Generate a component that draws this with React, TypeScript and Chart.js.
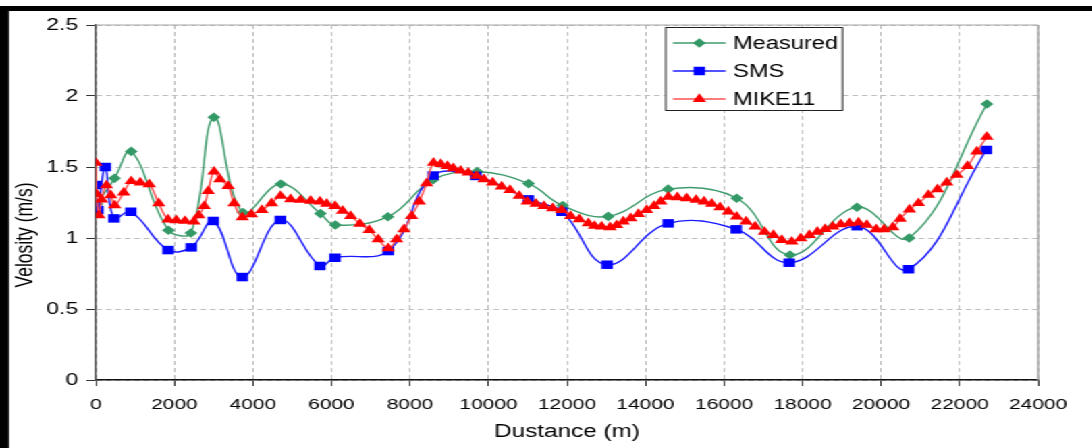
import React, { useEffect, useRef } from "react";
import { Chart, registerables } from "chart.js";

Chart.register(...registerables);

// ---------- data ----------
const seriesNames = ["Measured", "SMS", "MIKE11"];
const xTickLabels = ["0", "2000", "4000", "6000", "8000", "10000", "12000", "14000", "16000", "18000", "20000", "22000", "24000"];
const yTickLabels = ["0", "0.5", "1", "1.5", "2", "2.5"];
const xTitle = "Dustance (m)";
const yTitle = "Velosity (m/s)";

const measuredDistance = [30, 476, 900, 1850, 2420, 3006, 3745, 4713, 5720, 6100, 7440, 8590, 9710, 11020, 11890, 13050, 14575, 16325, 17680, 19385, 20715, 22695];
const measuredVelocity = [1.24, 1.42, 1.61, 1.055, 1.035, 1.85, 1.18, 1.38, 1.172, 1.092, 1.15, 1.41, 1.468, 1.383, 1.228, 1.152, 1.344, 1.28, 0.88, 1.217, 1.0, 1.944];

const smsDistance = [0, 50, 240, 460, 890, 1840, 2430, 2990, 3730, 4700, 5707, 6090, 7447, 8590, 9680, 11015, 11870, 13020, 14575, 16310, 17660, 19385, 20700, 22680];
const smsVelocity = [1.373, 1.197, 1.5, 1.138, 1.185, 0.915, 0.934, 1.12, 0.725, 1.127, 0.803, 0.861, 0.908, 1.44, 1.437, 1.272, 1.185, 0.812, 1.103, 1.061, 0.826, 1.083, 0.78, 1.62];

const mikeDistance = [
  0, 20, 75, 145, 270, 380, 480, 710, 900, 1130,
  1360, 1600, 1840, 2050, 2270, 2500, 2620, 2760, 2860, 3010,
  3160, 3370, 3520, 3730, 3960, 4230, 4475, 4705, 4960, 5215,
  5470, 5707, 5880, 6090, 6285, 6490, 6726, 6963, 7190, 7447,
  7660, 7847, 8042, 8237, 8425, 8600, 8782, 8952, 9104, 9291,
  9486, 9699, 9885, 10106, 10335, 10547, 10785, 10989, 11210, 11414,
  11635, 11864, 12093, 12313, 12543, 12700, 12883, 13096, 13266, 13435,
  13622, 13817, 14029, 14216, 14386, 14581, 14810, 15048, 15287, 15490,
  15686, 15898, 16110, 16322, 16560, 16790, 17030, 17256, 17470, 17724,
  17954, 18173, 18377, 18573, 18768, 18972, 19193, 19422, 19635, 19873,
  20076, 20297, 20484, 20722, 20951, 21206, 21435, 21673, 21928, 22200,
  22438, 22692,
];
const mikeVelocity = [
  1.53, 1.31, 1.16, 1.27, 1.37, 1.3, 1.23, 1.32, 1.4, 1.39,
  1.378, 1.244, 1.13, 1.125, 1.12, 1.115, 1.16, 1.225, 1.33, 1.467,
  1.413, 1.366, 1.244, 1.146, 1.167, 1.197, 1.244, 1.296, 1.272, 1.268,
  1.262, 1.256, 1.24, 1.225, 1.192, 1.155, 1.1, 1.056, 0.99, 0.927,
  0.99, 1.061, 1.155, 1.256, 1.385, 1.53, 1.52, 1.507, 1.49, 1.474,
  1.46, 1.437, 1.413, 1.39, 1.362, 1.338, 1.296, 1.256, 1.24, 1.225,
  1.209, 1.197, 1.155, 1.131, 1.103, 1.085, 1.08, 1.075, 1.09, 1.115,
  1.138, 1.169, 1.197, 1.225, 1.256, 1.29, 1.286, 1.279, 1.268, 1.256,
  1.24, 1.216, 1.186, 1.15, 1.115, 1.08, 1.044, 1.021, 0.986, 0.974,
  0.998, 1.021, 1.044, 1.063, 1.08, 1.096, 1.103, 1.108, 1.092, 1.061,
  1.061, 1.075, 1.135, 1.2, 1.245, 1.303, 1.343, 1.39, 1.444, 1.507,
  1.608, 1.713,
];

// ---------- styling ----------
const STRETCH = 1.35;
const W = 809;
const H = 448;
const FONT = "'Liberation Sans', Arial, sans-serif";

const toPoints = (xs: number[], ys: number[]) => xs.map((x, i) => ({ x, y: ys[i] }));

function drawMarker(ctx: CanvasRenderingContext2D, style: string, x: number, y: number, r: number) {
  ctx.beginPath();
  if (style === "rectRot") {
    ctx.moveTo(x - r, y);
    ctx.lineTo(x, y - r);
    ctx.lineTo(x + r, y);
    ctx.lineTo(x, y + r);
  } else if (style === "rect") {
    const s = Math.SQRT1_2 * r;
    ctx.rect(x - s, y - s, 2 * s, 2 * s);
  } else {
    ctx.moveTo(x, y - r);
    ctx.lineTo(x + r * Math.sin((2 * Math.PI) / 3), y - r * Math.cos((2 * Math.PI) / 3));
    ctx.lineTo(x + r * Math.sin((4 * Math.PI) / 3), y - r * Math.cos((4 * Math.PI) / 3));
  }
  ctx.closePath();
  ctx.fill();
}

const decorPlugin = {
  id: "decor",
  beforeDraw(chart: any) {
    const ctx = chart.ctx;
    ctx.save();
    ctx.fillStyle = "#ffffff";
    ctx.fillRect(0, 0, chart.width, chart.height);
    ctx.restore();
  },
  beforeDatasetsDraw(chart: any) {
    const { ctx, chartArea: a } = chart;
    ctx.save();
    ctx.strokeStyle = "#a8a8a8";
    ctx.lineWidth = 1.2;
    ctx.beginPath();
    ctx.moveTo(a.left, a.top);
    ctx.lineTo(a.right, a.top);
    ctx.stroke();
    ctx.lineWidth = 1.5;
    ctx.beginPath();
    ctx.moveTo(a.right, a.top);
    ctx.lineTo(a.right, a.bottom);
    ctx.stroke();
    ctx.restore();
  },
  afterDraw(chart: any) {
    const ctx = chart.ctx;
    ctx.save();
    // outer black frame (top and left)
    ctx.fillStyle = "#000";
    ctx.fillRect(0, 6, chart.width, 5);
    ctx.fillRect(0, 6, 6.7, chart.height);

    // y axis title
    ctx.save();
    ctx.translate(19.5, 235);
    ctx.rotate(-Math.PI / 2);
    ctx.fillStyle = "#000";
    ctx.font = `17.5px ${FONT}`;
    ctx.textAlign = "center";
    ctx.textBaseline = "middle";
    ctx.fillText(yTitle, 0, 0);
    ctx.restore();

    // legend box
    const bx = 492.6, by = 27, bw = 132, bh = 84;
    ctx.fillStyle = "#fff";
    ctx.fillRect(bx, by, bw, bh);
    ctx.strokeStyle = "#222";
    ctx.lineWidth = 1;
    ctx.strokeRect(bx + 0.5, by + 0.5, bw - 1, bh - 1);
    const rows = [43, 71, 99];
    chart.data.datasets.forEach((ds: any, i: number) => {
      const y = rows[i];
      ctx.strokeStyle = ds.borderColor;
      ctx.lineWidth = 1.4;
      ctx.beginPath();
      ctx.moveTo(498.5, y);
      ctx.lineTo(537.5, y);
      ctx.stroke();
      ctx.fillStyle = ds.pointBackgroundColor;
      drawMarker(ctx, ds.pointStyle, 518, y, ds.pointRadius);
      ctx.fillStyle = "#000";
      ctx.font = `17.5px ${FONT}`;
      ctx.textBaseline = "middle";
      ctx.textAlign = "left";
      ctx.fillText(ds.label, 543, y + 1);
    });
    ctx.restore();
  },
};

export default function App() {
  const ref = useRef<HTMLCanvasElement | null>(null);

  useEffect(() => {
    if (!ref.current) return;
    const chart = new Chart(ref.current, {
      type: "line",
      data: {
        datasets: [
          {
            label: seriesNames[0],
            data: toPoints(measuredDistance, measuredVelocity),
            borderColor: "#3e9b6c",
            borderWidth: 1.4,
            pointStyle: "rectRot",
            pointRadius: 4.8,
            pointBackgroundColor: "#339966",
            pointBorderColor: "#339966",
            pointBorderWidth: 0,
            tension: 0.4,
            fill: false,
            order: 2,
          },
          {
            label: seriesNames[1],
            data: toPoints(smsDistance, smsVelocity),
            borderColor: "#1a1aff",
            borderWidth: 1.4,
            pointStyle: "rect",
            pointRadius: 6,
            pointBackgroundColor: "#0000ff",
            pointBorderColor: "#0000ff",
            pointBorderWidth: 0,
            tension: 0.4,
            fill: false,
            order: 1,
          },
          {
            label: seriesNames[2],
            data: toPoints(mikeDistance, mikeVelocity),
            borderColor: "#ff5050",
            borderWidth: 1.4,
            pointStyle: "triangle",
            pointRadius: 5.8,
            pointBackgroundColor: "#ff0000",
            pointBorderColor: "#ff0000",
            pointBorderWidth: 0,
            tension: 0.4,
            fill: false,
            order: 0,
          },
        ],
      },
      options: {
        responsive: false,
        animation: false,
        devicePixelRatio: 1,
        events: [],
        layout: { padding: { left: 0, top: 25, right: 40, bottom: 0 } },
        plugins: { legend: { display: false }, tooltip: { enabled: false } },
        scales: {
          x: {
            type: "linear",
            min: 0,
            max: 24000,
            ticks: {
              stepSize: 2000,
              color: "#000",
              font: { family: FONT, size: 15.5 },
              padding: 9,
              maxRotation: 0,
              autoSkip: false,
              callback: (v: any) => xTickLabels[Math.round(Number(v) / 2000)] ?? "",
            },
            grid: { color: "#bdbdbd", lineWidth: 1, tickLength: 6, tickColor: "#333", tickWidth: 1 },
            border: { display: true, color: "#111", width: 1.5, dash: [4, 3] },
            title: {
              display: true,
              text: xTitle,
              color: "#000",
              font: { family: FONT, size: 18 },
              padding: { top: 0, bottom: 5 },
            },
            afterFit: (s: any) => {
              s.height = 68;
            },
          },
          y: {
            type: "linear",
            min: 0,
            max: 2.5,
            ticks: {
              stepSize: 0.5,
              color: "#000",
              font: { family: FONT, size: 17 },
              padding: 6,
              callback: (v: any) => yTickLabels[Math.round(Number(v) / 0.5)] ?? "",
            },
            grid: { color: "#bdbdbd", lineWidth: 1, tickLength: 7, tickColor: "#333", tickWidth: 1 },
            border: { display: true, color: "#555", width: 1.5, dash: [4, 3] },
            title: { display: false },
            afterFit: (s: any) => {
              s.width = 71;
            },
          },
        },
      } as any,
      plugins: [decorPlugin],
    });
    return () => chart.destroy();
  }, []);

  return (
    <div
      style={{
        position: "fixed",
        left: 0,
        top: 0,
        width: W,
        height: H,
        transform: `scaleX(${STRETCH})`,
        transformOrigin: "0 0",
        background: "#fff",
      }}
    >
      <canvas ref={ref} width={W} height={H} style={{ display: "block", width: W, height: H }} />
    </div>
  );
}
